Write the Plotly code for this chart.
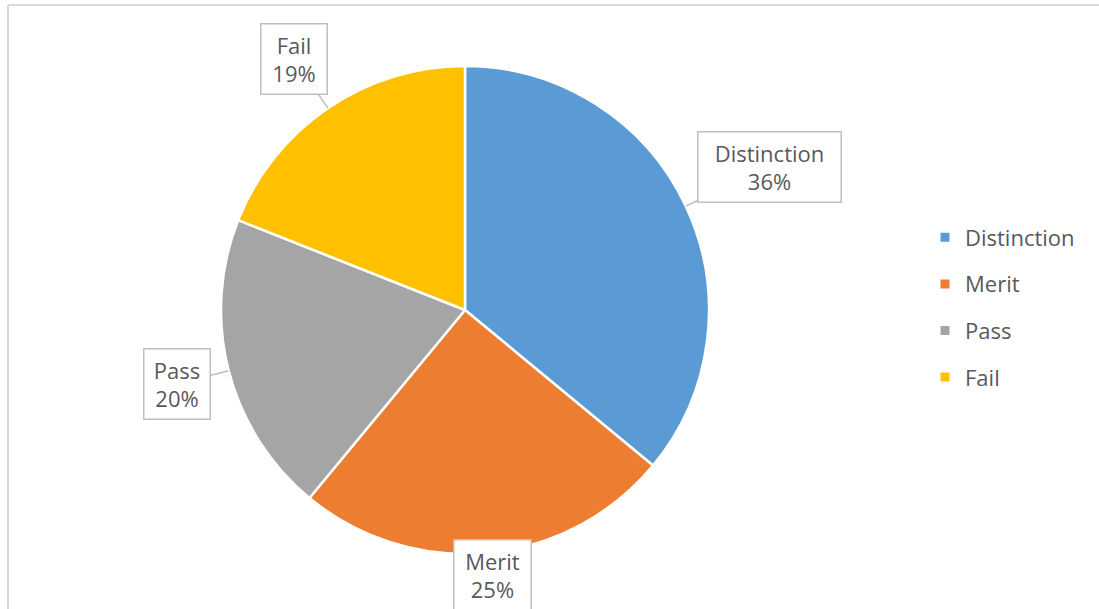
import math
import plotly.graph_objects as go

# ---- data ----
categories = ["Distinction", "Merit", "Pass", "Fail"]
values = [36, 25, 20, 19]
colors = ["#5B9BD5", "#ED7D31", "#A5A5A5", "#FFC000"]

# ---- layout constants ----
W, H = 1099, 609
CX, CY, R = 465, 310, 244          # pie centre / radius in pixels
TEXT = "#595959"
FONT = "Open Sans"
FS = 22
GAP = 12                           # pie edge -> callout box gap
BOX_H = 35                         # half box height
PAD = 5
BW = 1.5

fig = go.Figure()
fig.add_trace(go.Pie(
    labels=categories, values=values, sort=False,
    direction="clockwise", rotation=0,
    marker=dict(colors=colors, line=dict(color="white", width=2.5)),
    textinfo="none", hoverinfo="label+percent", showlegend=False,
    domain=dict(x=[(CX - R) / W, (CX + R) / W],
                y=[1 - (CY + R) / H, 1 - (CY - R) / H]),
))

# legend entries (square markers), one group each so spacing can be set
for c, col in zip(categories, colors):
    fig.add_trace(go.Scatter(
        x=[None], y=[None], mode="markers", name=c, legendgroup=c,
        marker=dict(symbol="square", size=9, color=col), hoverinfo="skip"))

# callout labels computed from slice mid-angles
annotations = []
total = sum(values)
cum = 0
for c, v in zip(categories, values):
    mid = (cum + v / 2) / total * 2 * math.pi
    cum += v
    sx, sy = math.sin(mid), -math.cos(mid)
    tipx, tipy = CX + R * sx, CY + R * sy
    pct = round(100 * v / total)
    w = 5.5 * len(c) + 12          # half box width, from label length
    L = GAP + abs(sx) * w + abs(sy) * BOX_H
    bx, by = tipx + L * sx, tipy + L * sy
    common = dict(
        text=f"{c}<br>{pct}%", xref="paper", yref="paper",
        font=dict(family=FONT, size=FS, color=TEXT),
        bordercolor="#BFBFBF", borderwidth=BW, borderpad=PAD, bgcolor="white",
        width=2 * w - 2 * PAD - 2 * BW, align="center",
    )
    if by + BOX_H > H:
        by = H - BOX_H + 1
        annotations.append(dict(x=bx / W, y=1 - by / H, showarrow=False,
                                xanchor="center", yanchor="middle", **common))
    else:
        annotations.append(dict(x=tipx / W, y=1 - tipy / H, showarrow=True,
                                ax=bx - tipx, ay=by - tipy, arrowhead=0,
                                arrowwidth=1.5, arrowcolor="#BFBFBF", standoff=0,
                                **common))

shapes = [
    dict(type="line", xref="paper", yref="paper", x0=8 / W, x1=1, y0=1 - 5 / H, y1=1 - 5 / H,
         line=dict(color="#D9D9D9", width=2)),
    dict(type="line", xref="paper", yref="paper", x0=8 / W, x1=8 / W, y0=0, y1=1 - 5 / H,
         line=dict(color="#D9D9D9", width=2)),
]

fig.update_layout(
    width=W, height=H,
    margin=dict(l=0, r=0, t=0, b=0),
    paper_bgcolor="white", plot_bgcolor="white",
    font=dict(family=FONT, size=FS, color=TEXT),
    xaxis=dict(visible=False), yaxis=dict(visible=False),
    showlegend=True,
    legend=dict(x=925 / W, xanchor="left", y=1 - 307.5 / H, yanchor="middle",
                font=dict(family=FONT, size=22, color=TEXT),
                tracegroupgap=15, bgcolor="rgba(0,0,0,0)", itemclick=False),
    annotations=annotations,
    shapes=shapes,
)

fig.write_html("out.html", config={"displayModeBar": False},
               post_script="document.body.style.margin='0';document.body.style.overflow='hidden';")
